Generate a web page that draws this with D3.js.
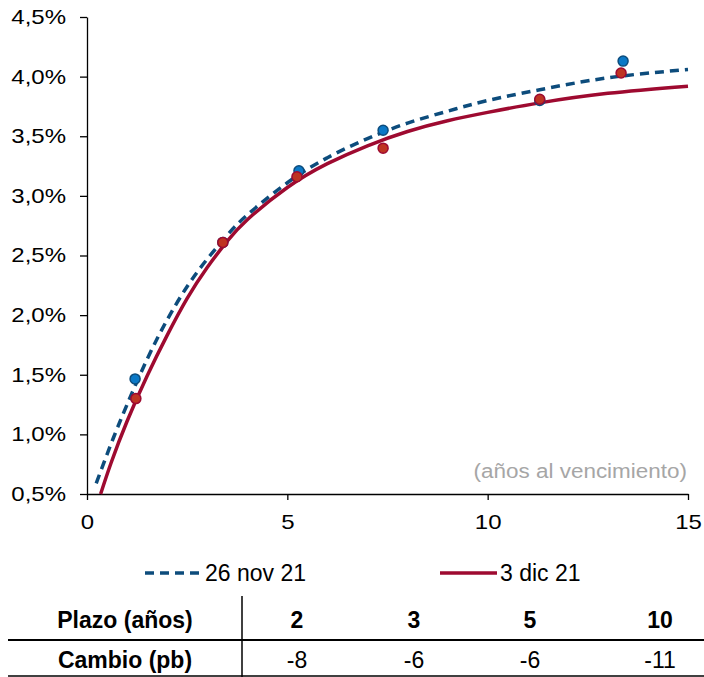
<!DOCTYPE html>
<html>
<head>
<meta charset="utf-8">
<script src="https://d3js.org/d3.v7.min.js"></script>
<style>
  body { margin: 0; background: #fff; }
  svg { font-family: Arial, "Liberation Sans", sans-serif; }
</style>
</head>
<body>
<svg width="704" height="677"></svg>
<script>
// curves: 26 nov 21 (dashed) and 3 dic 21 (solid)
const novCurveX = [0.23, 0.6, 1.0, 1.5, 2.0, 2.5, 3.0, 3.5, 4.0, 5.0, 6.0, 7.0, 8.0, 9.0, 10.0, 11.3, 13.0, 15.0];
const novCurveY = [0.59, 0.92, 1.25, 1.63, 1.96, 2.24, 2.47, 2.67, 2.84, 3.11, 3.32, 3.48, 3.61, 3.71, 3.80, 3.89, 3.99, 4.06];
const dicCurveX = [0.34, 0.6, 1.0, 1.5, 2.0, 2.5, 3.0, 3.5, 4.0, 5.0, 6.0, 7.0, 8.0, 9.0, 10.0, 11.3, 13.0, 15.0];
const dicCurveY = [0.50, 0.76, 1.11, 1.49, 1.83, 2.14, 2.40, 2.62, 2.80, 3.07, 3.27, 3.42, 3.54, 3.63, 3.70, 3.78, 3.86, 3.92];

// observed yields (dots)
const novDotX = [1.20, 3.39, 5.29, 7.39, 11.30, 13.38];
const novDotY = [1.465, 2.61, 3.21, 3.55, 3.80, 4.13];
const dicDotX = [1.22, 3.39, 5.24, 7.39, 11.30, 13.33];
const dicDotY = [1.30, 2.61, 3.16, 3.40, 3.81, 4.03];

const yTicks = [0.5, 1.0, 1.5, 2.0, 2.5, 3.0, 3.5, 4.0, 4.5];
const xTicks = [0, 5, 10, 15];

const seriesNames = ["26 nov 21", "3 dic 21"];
const plazos = ["2", "3", "5", "10"];
const cambios = ["-8", "-6", "-6", "-11"];

const svg = d3.select("svg");

let x = d3.scaleLinear().domain([0, 15]).range([87, 688]);
let y = d3.scaleLinear().domain([0.5, 4.5]).range([494, 17]);

const blueLine = "#0D4C7C";
const redLine = "#9E0A30";

// axes (labels in the picture are a bit stretched sideways)
svg.append("g")
  .attr("transform", "translate(87,0)")
  .call(d3.axisLeft(y).tickValues(yTicks).tickSize(7).tickSizeOuter(0).tickPadding(10.5)
    .tickFormat(d => d3.format(".1f")(d).replace(".", ",") + "%"))
  .call(g => g.selectAll("text").attr("font-size", 20).attr("fill", "#000")
    .attr("transform", "scale(1.2,1)"))
  .call(g => g.selectAll("line, path").attr("stroke", "#000").attr("stroke-width", 1.3));

svg.append("g")
  .attr("transform", "translate(0,494)")
  .call(d3.axisBottom(x).tickValues(xTicks).tickSize(6).tickSizeOuter(0).tickPadding(15))
  .call(g => g.selectAll(".tick text").attr("font-size", 20).attr("fill", "#000")
    .attr("transform", "scale(1.2,1)"))
  .call(g => g.selectAll("line, path").attr("stroke", "#000").attr("stroke-width", 1.3));

// axis note
svg.append("text")
  .attr("transform", "translate(687,478) scale(1.07,1)")
  .attr("text-anchor", "end")
  .attr("font-size", 21)
  .attr("fill", "#A6A6A6")
  .text("(años al vencimiento)");

// curves
let line = d3.line()
  .x(d => x(d[0]))
  .y(d => y(d[1]))
  .curve(d3.curveNatural);

svg.append("path")
  .datum(d3.zip(dicCurveX, dicCurveY))
  .attr("d", line)
  .attr("fill", "none")
  .attr("stroke", redLine)
  .attr("stroke-width", 3.5);

svg.append("path")
  .datum(d3.zip(novCurveX, novCurveY))
  .attr("d", line)
  .attr("fill", "none")
  .attr("stroke", blueLine)
  .attr("stroke-width", 3.5)
  .attr("stroke-dasharray", "9,6");

// dots: blue first, red on top
svg.append("g").selectAll("circle")
  .data(d3.zip(novDotX, novDotY))
  .join("circle")
  .attr("cx", d => x(d[0]))
  .attr("cy", d => y(d[1]))
  .attr("r", 5)
  .attr("fill", "#0B78C6")
  .attr("stroke", "#0D4C7C")
  .attr("stroke-width", 1.5);

svg.append("g").selectAll("circle")
  .data(d3.zip(dicDotX, dicDotY))
  .join("circle")
  .attr("cx", d => x(d[0]))
  .attr("cy", d => y(d[1]))
  .attr("r", 5)
  .attr("fill", "#BE3422")
  .attr("stroke", "#9E0A30")
  .attr("stroke-width", 1.5);

// legend
const legend = svg.append("g");
const legendPos = [145, 440];
seriesNames.forEach((name, i) => {
  let lg = legend.append("g").attr("transform", `translate(${legendPos[i]},573)`);
  lg.append("line")
    .attr("x1", 0).attr("x2", 57).attr("y1", 0).attr("y2", 0)
    .attr("stroke", i === 0 ? blueLine : redLine)
    .attr("stroke-width", 3.5)
    .attr("stroke-dasharray", i === 0 ? "9,6" : null);
  lg.append("text")
    .attr("x", 60).attr("y", 8)
    .attr("font-size", 23)
    .text(name);
});

// table
const colX = [297, 414, 530, 660];
const table = svg.append("g");
table.append("text")
  .attr("x", 125).attr("y", 628)
  .attr("text-anchor", "middle")
  .attr("font-size", 23).attr("font-weight", "bold")
  .text("Plazo (años)");
table.append("text")
  .attr("x", 125).attr("y", 668)
  .attr("text-anchor", "middle")
  .attr("font-size", 23).attr("font-weight", "bold")
  .text("Cambio (pb)");

table.selectAll("text.plazo")
  .data(plazos)
  .join("text")
  .attr("class", "plazo")
  .attr("x", (d, i) => colX[i]).attr("y", 628)
  .attr("text-anchor", "middle")
  .attr("font-size", 23).attr("font-weight", "bold")
  .text(d => d);

table.selectAll("text.cambio")
  .data(cambios)
  .join("text")
  .attr("class", "cambio")
  .attr("x", (d, i) => colX[i]).attr("y", 668)
  .attr("text-anchor", "middle")
  .attr("font-size", 23)
  .text(d => d);

table.append("line")
  .attr("x1", 8).attr("x2", 704).attr("y1", 640).attr("y2", 640)
  .attr("stroke", "#000").attr("stroke-width", 2);
table.append("line")
  .attr("x1", 8).attr("x2", 704).attr("y1", 676).attr("y2", 676)
  .attr("stroke", "#000").attr("stroke-width", 1.5);
table.append("line")
  .attr("x1", 242).attr("x2", 242).attr("y1", 596).attr("y2", 677)
  .attr("stroke", "#000").attr("stroke-width", 1.5);
</script>
</body>
</html>
